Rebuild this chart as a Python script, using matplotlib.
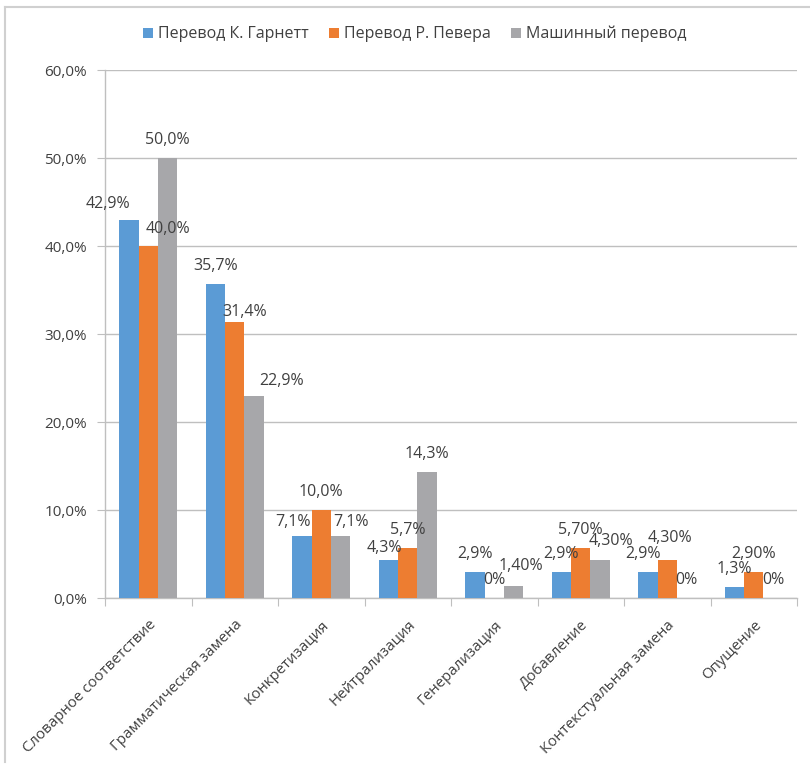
import matplotlib
matplotlib.use("Agg")
import matplotlib.pyplot as plt
from matplotlib.lines import Line2D
from matplotlib.patches import Patch
import numpy as np

plt.rcParams['font.family'] = ['Open Sans', 'DejaVu Sans']

categories = ["Словарное соответствие", "Грамматическая замена", "Конкретизация",
              "Нейтрализация", "Генерализация", "Добавление",
              "Контекстуальная замена", "Опущение"]
series_names = ["Перевод К. Гарнетт", "Перевод Р. Певера", "Машинный перевод"]
garnett = [42.9, 35.7, 7.1, 4.3, 2.9, 2.9, 2.9, 1.3]
pevear = [40.0, 31.4, 10.0, 5.7, 0.0, 5.7, 4.3, 2.9]
machine = [50.0, 22.9, 7.1, 14.3, 1.4, 4.3, 0.0, 0.0]
garnett_labels = ["42,9%", "35,7%", "7,1%", "4,3%", "2,9%", "2,9%", "2,9%", "1,3%"]
pevear_labels = ["40,0%", "31,4%", "10,0%", "5,7%", "0%", "5,70%", "4,30%", "2,90%"]
machine_labels = ["50,0%", "22,9%", "7,1%", "14,3%", "1,40%", "4,30%", "0%", "0%"]
yticks = [0, 10, 20, 30, 40, 50, 60]
ytick_labels = ["0,0%", "10,0%", "20,0%", "30,0%", "40,0%", "50,0%", "60,0%"]

colors = ["#5B9BD5", "#ED7D31", "#A7A7AA"]
text_color = "#404040"
grid_color = "#BFBFBF"

# label offsets in pixels (dx, dy) relative to bar top centre
default_off = (0, 18)
special_off = {
    (0, 0): (-21, 16), (0, 1): (20, 17), (1, 1): (10, 10), (1, 2): (28, 15),
    (2, 0): (-9, 14), (2, 2): (10, 14), (3, 0): (-4, 12), (4, 2): (7, 20),
    (5, 2): (11, 19), (6, 0): (-5, 18), (6, 1): (3, 22),
}

fig = plt.figure(figsize=(8.1, 7.65), dpi=100)
ax = fig.add_axes([105/810, 1-598/765, (797-105)/810, (598-70)/765])

x = np.arange(len(categories))
w = 0.223
all_vals = [garnett, pevear, machine]
all_labels = [garnett_labels, pevear_labels, machine_labels]
for s in range(3):
    pos = x + (s - 1) * w
    ax.bar(pos, all_vals[s], width=w, color=colors[s], zorder=3, label=series_names[s])
    for i in range(len(categories)):
        dx, dy = special_off.get((i, s), default_off)
        ax.annotate(all_labels[s][i], (pos[i], all_vals[s][i]),
                    xytext=(dx, dy), textcoords='offset pixels',
                    ha='center', va='center', fontsize=11.5, color=text_color, zorder=4)

ax.set_xlim(-0.5, len(categories) - 0.5)
ax.set_ylim(0, 60)
ax.set_yticks(yticks)
ax.set_yticklabels(ytick_labels, fontsize=11, color=text_color)
ax.yaxis.grid(True, color=grid_color, linewidth=1, zorder=0)
ax.set_xticks(np.arange(len(categories) + 1) - 0.5, minor=False)
ax.set_xticklabels([])
ax.set_xticks(x, minor=True)
ax.set_xticklabels(categories, minor=True, rotation=45, ha='right', va='top',
                   rotation_mode='anchor', fontsize=10.8, color=text_color)
ax.tick_params(axis='x', which='minor', length=0, pad=14)
ax.tick_params(axis='x', which='major', length=6, color=grid_color, direction='out')
ax.tick_params(axis='y', length=6, color=grid_color, direction='out', pad=7)
for sp in ['top', 'right']:
    ax.spines[sp].set_visible(False)
for sp in ['left', 'bottom']:
    ax.spines[sp].set_color(grid_color)
    ax.spines[sp].set_linewidth(1)

handles = [Patch(facecolor=c) for c in colors]
fig.legend(handles, series_names, loc='center', bbox_to_anchor=(0.512, 1-34/765), ncol=3,
           frameon=False, handlelength=0.6, handleheight=0.6, handletextpad=0.3,
           columnspacing=1.3, fontsize=11.5, labelcolor=text_color)

fig.add_artist(Line2D([5/810, 1], [1-7/765, 1-7/765], color="#D0D0D0", linewidth=1.5))
fig.add_artist(Line2D([5/810, 5/810], [1-7/765, 1-762/765], color="#D0D0D0", linewidth=1.5))

fig.savefig("out.png", dpi=100)
